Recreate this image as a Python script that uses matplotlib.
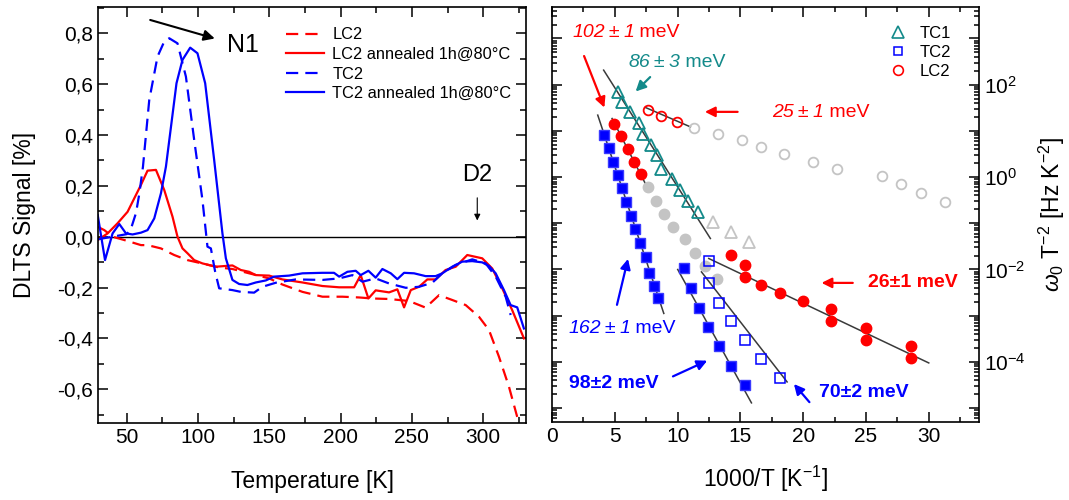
import numpy as np
import matplotlib
matplotlib.use("Agg")
import matplotlib.pyplot as plt
from matplotlib.ticker import MultipleLocator, FuncFormatter, LogLocator, NullFormatter
from matplotlib.lines import Line2D

plt.rcParams['font.family'] = ['Liberation Sans', 'DejaVu Sans']
plt.rcParams['mathtext.fontset'] = 'custom'
plt.rcParams['mathtext.rm'] = 'Liberation Sans'
plt.rcParams['mathtext.it'] = 'Liberation Sans:italic'
plt.rcParams['mathtext.bf'] = 'Liberation Sans:bold'

# ---------------- left panel data (DLTS spectra) ----------------
T_lc2 = [29.8, 34.4, 40.2, 48.4, 60.1, 64.7, 74.1, 83.4, 92.7, 104.4, 114.9, 124.2, 135.9,
         149.9, 159.2, 173.3, 187.3, 201.3, 213.0, 222.2, 234.0, 248.0, 259.6, 269.0, 278.3,
         287.7, 297.0, 304.0, 311.0, 318.0, 323.8]
S_lc2 = [0.039, 0.026, 0.0, -0.013, -0.033, -0.033, -0.046, -0.072, -0.092, -0.107, -0.121,
         -0.127, -0.144, -0.164, -0.188, -0.217, -0.236, -0.236, -0.239, -0.243, -0.245, -0.253,
         -0.279, -0.230, -0.249, -0.269, -0.315, -0.367, -0.472, -0.590, -0.709]

T_lc2_ann = [29.8, 36.7, 43.7, 50.7, 57.7, 60.1, 64.7, 70.6, 76.4, 82.2, 85.7, 89.2, 92.7,
             97.4, 103.2, 112.6, 124.2, 130.1, 135.9, 140.6, 149.9, 159.2, 173.3, 187.3, 199.0,
             209.5, 214.1, 219.5, 224.6, 234.0, 239.8, 244.5, 249.2, 255.0, 260.8, 266.6,
             273.6, 280.7, 288.8, 299.3, 306.3, 313.3, 320.3, 328.5]
S_lc2_ann = [-0.013, 0.013, 0.053, 0.098, 0.177, 0.204, 0.260, 0.263, 0.184, 0.079, 0.0,
             -0.046, -0.065, -0.092, -0.105, -0.118, -0.113, -0.131, -0.138, -0.151, -0.153,
             -0.168, -0.180, -0.194, -0.199, -0.199, -0.151, -0.243, -0.211, -0.219, -0.207,
             -0.278, -0.210, -0.197, -0.168, -0.168, -0.131, -0.118, -0.072, -0.085, -0.125,
             -0.203, -0.289, -0.400]

T_tc2 = [30.0, 35.0, 40.0, 45.0, 50.0, 53.0, 56.6, 59.0, 61.5, 65.9, 71.7, 76.4, 79.9, 85.7,
         91.6, 97.4, 103.2, 106.7, 109.1, 112.1, 114.9, 124.2, 130.1, 139.4, 145.2, 154.6,
         168.6, 187.3, 199.0, 208.3, 215.3, 224.6, 234.0, 245.7, 255.0, 264.3, 271.3, 280.7,
         292.3, 301.7, 308.7, 315.7, 319.2]
S_tc2 = [-0.010, -0.005, 0.0, 0.005, 0.010, 0.030, 0.093, 0.171, 0.276, 0.538, 0.709, 0.768,
         0.781, 0.761, 0.630, 0.381, 0.144, -0.039, -0.046, -0.138, -0.203, -0.210, -0.217,
         -0.220, -0.197, -0.181, -0.168, -0.170, -0.164, -0.151, -0.177, -0.164, -0.184,
         -0.201, -0.197, -0.181, -0.144, -0.111, -0.089, -0.105, -0.157, -0.236, -0.308]

T_tc2_ann = [29.8, 34.9, 40.2, 44.9, 49.6, 54.2, 60.1, 64.7, 69.4, 74.1, 77.6, 85.0, 89.2,
             94.6, 99.7, 105.1, 111.4, 117.2, 119.6, 124.2, 128.9, 134.7, 140.6, 147.6, 153.4,
             163.9, 173.3, 187.3, 195.4, 199.0, 204.8, 210.6, 214.1, 219.5, 224.6, 229.3,
             235.2, 239.8, 244.5, 251.5, 259.6, 266.6, 271.3, 278.3, 285.3, 292.3, 299.3,
             304.0, 308.7, 314.5, 319.2, 323.8, 328.5]
S_tc2_ann = [0.085, -0.092, 0.013, 0.050, 0.013, 0.009, 0.016, 0.026, 0.072, 0.171, 0.276,
             0.604, 0.696, 0.744, 0.722, 0.604, 0.302, 0.013, -0.085, -0.170, -0.186, -0.190,
             -0.180, -0.172, -0.157, -0.153, -0.144, -0.142, -0.142, -0.157, -0.138, -0.134,
             -0.151, -0.134, -0.161, -0.127, -0.144, -0.167, -0.142, -0.144, -0.155, -0.155,
             -0.144, -0.118, -0.098, -0.096, -0.101, -0.115, -0.144, -0.210, -0.269, -0.278,
             -0.361]

left_labels = ["LC2", "LC2 annealed 1h@80°C", "TC2", "TC2 annealed 1h@80°C"]

# ---------------- right panel data (Arrhenius) ----------------
tc1_x = [5.23, 5.58, 6.24, 6.90, 7.25, 7.91, 8.37, 8.71, 9.56, 10.17, 10.84, 11.60]
tc1_y = [69.8, 41.2, 25.0, 14.5, 8.49, 4.90, 2.98, 1.53, 0.887, 0.520, 0.305, 0.177]
tc1_grey_x = [12.83, 14.29, 15.67]
tc1_grey_y = [0.107, 0.0652, 0.0395]

lc2o_x = [7.62, 8.71, 9.96]
lc2o_y = [28.1, 20.8, 15.2]
lc2o_grey_x = [11.34, 13.20, 15.14, 16.65, 18.51, 20.79, 22.71, 26.29, 27.75, 29.40, 31.26]
lc2o_grey_y = [11.6, 8.49, 6.30, 4.37, 3.08, 2.13, 1.46, 1.06, 0.692, 0.442, 0.282]

tc2a_x = [4.17, 4.51, 4.86, 5.23, 5.58, 5.92, 6.29, 6.62, 7.03, 7.45, 7.75, 8.15, 8.43]
tc2a_y = [8.07, 4.16, 2.13, 1.10, 0.566, 0.290, 0.143, 0.0735, 0.0377, 0.0187, 0.00843,
          0.00436, 0.00236]
tc2b_x = [10.54, 11.10, 11.74, 12.43, 13.28, 14.29, 15.35]
tc2b_y = [0.0110, 0.00407, 0.00150, 5.73e-4, 2.19e-4, 8.20e-5, 3.24e-5]
tc2o_x = [12.48, 12.48, 13.33, 14.29, 15.35, 16.65, 18.14]
tc2o_y = [0.0151, 0.00498, 0.00193, 7.60e-4, 2.95e-4, 1.13e-4, 4.51e-5]

lc2f_x = [4.96, 5.50, 6.03, 6.56, 7.12]
lc2f_y = [14.0, 7.67, 4.02, 2.13, 1.16]
lc2f_grey_x = [7.62, 8.31, 8.95, 9.61, 10.62, 11.36, 12.16, 13.15]
lc2f_grey_y = [0.596, 0.305, 0.157, 0.0811, 0.0453, 0.0229, 0.0120, 0.00617]
lc2g_x = [14.26, 15.40, 15.40, 16.65, 18.14, 20.0, 22.23, 22.23, 25.02, 25.02, 28.55, 28.55]
lc2g_y = [0.0204, 0.0128, 0.00692, 0.00457, 0.00303, 0.00206, 0.00138, 7.73e-4, 5.44e-4,
          3.05e-4, 2.19e-4, 1.22e-4]

# fitted lines (end points)
fit_86_x, fit_86_y = [4.11, 12.61], [206.0, 0.0469]
fit_25_x, fit_25_y = [7.43, 11.02], [32.1, 12.2]
fit_102_x, fit_102_y = [4.78, 7.70], [18.5, 0.520]
fit_162_x, fit_162_y = [3.64, 8.90], [21.9, 0.00112]
fit_98_x, fit_98_y = [10.01, 15.88], [0.01, 1.30e-5]
fit_70_x, fit_70_y = [11.90, 18.72], [8.87e-3, 3.69e-5]
fit_26_x, fit_26_y = [12.48, 30.0], [0.0173, 9.51e-5]

right_labels = ["TC1", "TC2", "LC2"]

RED = '#ff0000'
BLUE = '#0000ff'
TEAL = '#138a8a'
GREY = '#c4c4c4'
FITC = '#3a3a3a'

fig = plt.figure(figsize=(10.69, 5.0), dpi=100)
ax1 = fig.add_axes([0.0917, 0.154, 0.4004, 0.832])
ax2 = fig.add_axes([0.5164, 0.156, 0.3994, 0.830])

# ---------- left ----------
lw = 1.6
DASH = (0, (5.5, 3.2))
ax1.plot(T_lc2, S_lc2, color=RED, lw=lw, ls=DASH, label=left_labels[0])
ax1.plot(T_lc2_ann, S_lc2_ann, color=RED, lw=lw, label=left_labels[1])
ax1.plot(T_tc2, S_tc2, color=BLUE, lw=lw, ls=DASH, label=left_labels[2])
ax1.plot(T_tc2_ann, S_tc2_ann, color=BLUE, lw=lw, label=left_labels[3])
ax1.axhline(0, color='black', lw=1.0, zorder=0)
ax1.set_xlim(30, 330)
ax1.set_ylim(-0.733, 0.904)
ax1.xaxis.set_major_locator(MultipleLocator(50))
ax1.xaxis.set_minor_locator(MultipleLocator(25))
ax1.yaxis.set_major_locator(MultipleLocator(0.2))
ax1.yaxis.set_minor_locator(MultipleLocator(0.1))
ax1.yaxis.set_major_formatter(FuncFormatter(lambda v, p: f"{v:.1f}".replace('.', ',').replace('-0,0', '0,0')))
ax1.tick_params(which='both', direction='in', top=True, right=True, labelsize=15, width=1.1)
ax1.tick_params(which='major', length=7)
ax1.tick_params(which='minor', length=4)
for s in ax1.spines.values():
    s.set_linewidth(1.2)
ax1.set_xlabel("Temperature [K]", fontsize=16.5, labelpad=17)
ax1.set_ylabel("DLTS Signal [%]", fontsize=16.5, labelpad=15)
ax1.legend(loc='upper left', bbox_to_anchor=(0.44, 0.951), frameon=False, fontsize=11.8,
           handlelength=2.3, handletextpad=0.5, labelspacing=0.28, borderpad=0, borderaxespad=0)

ax1.annotate("", xy=(113.7, 0.777), xytext=(64.7, 0.856),
             arrowprops=dict(arrowstyle='-|>', color='black', lw=1.5, mutation_scale=16))
ax1.text(131.7, 0.755, "N1", fontsize=18, ha='center', va='center')
ax1.text(295.6, 0.243, "D2", fontsize=17, ha='center', va='center')
ax1.annotate("", xy=(295.8, 0.053), xytext=(295.8, 0.164),
             arrowprops=dict(arrowstyle='-|>', color='black', lw=0.8, mutation_scale=9))

# ---------- right ----------
ms = 7
for fx, fy in [(fit_86_x, fit_86_y), (fit_25_x, fit_25_y), (fit_102_x, fit_102_y),
               (fit_162_x, fit_162_y), (fit_98_x, fit_98_y), (fit_70_x, fit_70_y),
               (fit_26_x, fit_26_y)]:
    ax2.plot(fx, fy, color=FITC, lw=1.1, zorder=1)

ax2.plot(tc1_grey_x, tc1_grey_y, ls='none', marker='^', ms=ms + 1, mfc='none', mec=GREY, mew=1.3)
ax2.plot(lc2o_grey_x, lc2o_grey_y, ls='none', marker='o', ms=ms, mfc='none', mec=GREY, mew=1.3)
ax2.plot(lc2f_grey_x, lc2f_grey_y, ls='none', marker='o', ms=ms + 0.5, mfc=GREY, mec=GREY)
ax2.plot(tc1_x, tc1_y, ls='none', marker='^', ms=ms + 1, mfc='none', mec=TEAL, mew=1.3, zorder=3)
ax2.plot(lc2o_x, lc2o_y, ls='none', marker='o', ms=ms, mfc='none', mec=RED, mew=1.3, zorder=3)
ax2.plot(tc2a_x, tc2a_y, ls='none', marker='s', ms=ms, mfc=BLUE, mec='#3a3aff', zorder=3)
ax2.plot(tc2b_x, tc2b_y, ls='none', marker='s', ms=ms, mfc=BLUE, mec='#3a3aff', zorder=3)
ax2.plot(tc2o_x, tc2o_y, ls='none', marker='s', ms=ms, mfc='none', mec=BLUE, mew=1.1, zorder=3)
ax2.plot(lc2f_x, lc2f_y, ls='none', marker='o', ms=ms + 0.5, mfc=RED, mec=RED, zorder=3)
ax2.plot(lc2g_x, lc2g_y, ls='none', marker='o', ms=ms + 0.5, mfc=RED, mec=RED, zorder=3)

ax2.set_yscale('log')
ax2.set_xlim(0, 34)
ax2.set_ylim(10 ** -5.3, 10 ** 3.68)
ax2.xaxis.set_major_locator(MultipleLocator(5))
ax2.xaxis.set_minor_locator(MultipleLocator(2.5))
ax2.yaxis.set_major_locator(LogLocator(base=10, numticks=20))
ax2.yaxis.set_minor_locator(LogLocator(base=10, subs=np.arange(2, 10), numticks=20))
ax2.yaxis.set_minor_formatter(NullFormatter())


def logfmt(v, p):
    e = int(round(np.log10(v)))
    if e % 2 == 0 and -4 <= e <= 2:
        return r"$10^{%d}$" % e
    return ""


ax2.yaxis.set_major_formatter(FuncFormatter(logfmt))
ax2.tick_params(which='both', direction='in', top=True, right=True, left=True,
                labelleft=False, labelright=True, labelsize=15, width=1.1)
ax2.tick_params(which='major', length=7)
ax2.tick_params(which='minor', length=3.5)
for s in ax2.spines.values():
    s.set_linewidth(1.2)
ax2.set_xlabel(r"1000/T [K$^{\mathregular{-1}}$]", fontsize=16.5, labelpad=13)
ax2.yaxis.set_label_position('right')
ax2.set_ylabel(r"$\omega_0$ T$^{\mathregular{-2}}$ [Hz K$^{\mathregular{-2}}$]", fontsize=16.5,
               labelpad=8)

handles = [Line2D([], [], ls='none', marker='^', ms=ms + 1, mfc='none', mec=TEAL, mew=1.2),
           Line2D([], [], ls='none', marker='s', ms=ms - 1, mfc='none', mec=BLUE, mew=1.1),
           Line2D([], [], ls='none', marker='o', ms=ms, mfc='none', mec=RED, mew=1.2)]
ax2.legend(handles, right_labels, loc='upper left', bbox_to_anchor=(0.79, 0.955), frameon=False,
           fontsize=12, handlelength=1.0, handletextpad=0.8, labelspacing=0.25,
           borderpad=0, borderaxespad=0)


def mixed_text(ax, x, y, pieces, color, size):
    """Write pieces (text, italic?) one after another starting at data point (x, y)."""
    prev = None
    for s, it in pieces:
        style = 'italic' if it else 'normal'
        if prev is None:
            prev = ax.text(x, y, s, color=color, fontsize=size, fontstyle=style,
                           ha='left', va='center')
        else:
            prev = ax.annotate(s, xy=(1, 0.5), xycoords=prev, color=color, fontsize=size,
                               fontstyle=style, ha='left', va='center')
    return prev


PM = "\u2009±\u2009"
arrow_kw = dict(arrowstyle='-|>', lw=1.6, mutation_scale=15)
# 102 meV
mixed_text(ax2, 1.62, 10 ** 3.136, [("102", True), (PM, False), ("1", True), (" meV", False)],
           RED, 14)
ax2.annotate("", xy=(4.25, 10 ** 1.448), xytext=(2.47, 10 ** 2.675),
             arrowprops=dict(color=RED, **arrow_kw))
# 86 meV
mixed_text(ax2, 6.08, 10 ** 2.487, [("86", True), (PM, False), ("3", True), (" meV", False)],
           TEAL, 14)
ax2.annotate("", xy=(6.50, 10 ** 1.810), xytext=(7.97, 10 ** 2.206),
             arrowprops=dict(color=TEAL, **arrow_kw))
# 25 meV
mixed_text(ax2, 17.55, 10 ** 1.405, [("25", True), (PM, False), ("1", True), (" meV", False)],
           RED, 14)
ax2.annotate("", xy=(11.95, 10 ** 1.411), xytext=(15.0, 10 ** 1.411),
             arrowprops=dict(color=RED, **arrow_kw))
# 26 meV
ax2.text(28.71, 10 ** -2.290, "26±1 meV", color=RED, fontsize=14, fontweight='bold',
         ha='center', va='center')
ax2.annotate("", xy=(21.24, 10 ** -2.290), xytext=(24.17, 10 ** -2.290),
             arrowprops=dict(color=RED, **arrow_kw))
# 162 meV
mixed_text(ax2, 1.30, 10 ** -3.271, [("162", True), (PM, False), ("1", True), (" meV", False)],
           BLUE, 14)
ax2.annotate("", xy=(6.10, 10 ** -1.712), xytext=(5.12, 10 ** -2.823),
             arrowprops=dict(color=BLUE, **arrow_kw))
# 98 meV
ax2.text(4.88, 10 ** -4.461, "98±2 meV", color=BLUE, fontsize=14, fontweight='bold',
         ha='center', va='center')
ax2.annotate("", xy=(12.56, 10 ** -3.948), xytext=(9.43, 10 ** -4.338),
             arrowprops=dict(color=BLUE, **arrow_kw))
# 70 meV
ax2.text(24.80, 10 ** -4.671, "70±2 meV", color=BLUE, fontsize=14, fontweight='bold',
         ha='center', va='center')
ax2.annotate("", xy=(19.12, 10 ** -4.433), xytext=(20.64, 10 ** -4.916),
             arrowprops=dict(color=BLUE, **arrow_kw))

fig.savefig("out.png", dpi=100)
